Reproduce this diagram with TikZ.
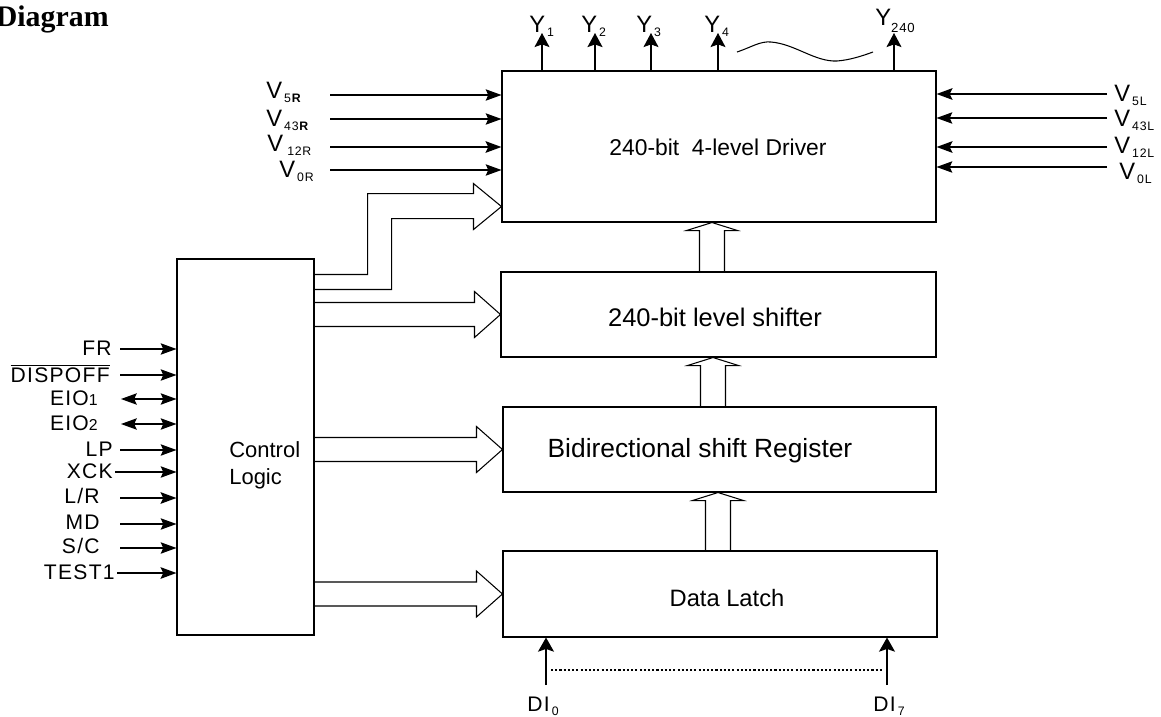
\documentclass[tikz,border=0pt]{standalone}
\usepackage{fontspec}
\setmainfont{Liberation Sans}
\newfontfamily\titlefont{Liberation Serif}
\newfontfamily\pinfont[LetterSpace=6]{Liberation Sans}
\usetikzlibrary{arrows.meta,calc}
\def\pxu{0.02cm}
\def\sig#1#2{#1\raisebox{-2.5pt}{\fontsize{7}{8}\selectfont\,#2}}
\def\busto(#1){\draw[bus] ($(ctrl.east |- #1.west)+(0,-12)$) -- ($(#1.west)+(-26,-12)$) -- ++(0,-11) -- (#1.west) -- ($(#1.west)+(-26,23)$) -- ++(0,-11) -- ($(ctrl.east |- #1.west)+(0,12)$);}
\def\upbus(#1)(#2)(#3){\coordinate (bx) at (#3,0);
	\draw[bus] ($(bx |- #1.north)+(-12.5,0)$) -- ($(bx |- #2.south)+(-12.5,8)$) -- ++(-13,0) -- (bx |- #2.south) -- ($(bx |- #2.south)+(25.5,8)$) -- ++(-13,0) -- ($(bx |- #1.north)+(12.5,0)$);}
\tikzset{
	blk/.style={draw, line width=0.6pt, inner sep=0pt},
	blktxt/.style={inner sep=0pt},
	bus/.style={line width=0.6pt, line join=miter},
	sig/.style={-{Stealth[length=9pt,width=6.5pt,inset=1.5pt]}, line width=0.6pt},
	sigb/.style={sig, line width=1.2pt},
	dsig/.style={{Stealth[length=9pt,width=6.5pt,inset=1.5pt]}-{Stealth[length=9pt,width=6.5pt,inset=1.5pt]}, line width=0.6pt},
	yout/.style={-{Stealth[length=8pt,width=8.5pt,inset=1.5pt]}, line width=0.6pt},
	lbl/.style={inner sep=0pt, font=\pinfont\fontsize{13.5}{15}\selectfont},
	pin/.style={inner sep=0pt, text depth=0pt, font=\pinfont\fontsize{12}{14}\selectfont},
}

\begin{document}
\begin{tikzpicture}[x=\pxu, y=-\pxu]
			%%%%% START %%%%%
			\useasboundingbox (0,0) rectangle (1161,717);
			\node[anchor=base east, inner sep=0pt, font=\titlefont\bfseries\fontsize{17}{17}\selectfont] (title) at (109,26) {Diagram};
			
			% blocks
			\node[blk, minimum width=434*\pxu, minimum height=151*\pxu] (drv) at (719,146.5) {};
			\node[blktxt, font=\fontsize{13}{15}\selectfont] (drvtxt) at (718,147) {240-bit\ \ 4-level Driver};
			\node[blk, minimum width=435*\pxu, minimum height=85*\pxu] (ls) at (718.5,314.5) {};
			\node[blktxt, font=\fontsize{14.5}{16}\selectfont] (lstxt) at (715,317) {240-bit level shifter};
			\node[blk, minimum width=433*\pxu, minimum height=85*\pxu] (sr) at (719.5,449.5) {};
			\node[blktxt, font=\fontsize{15}{17}\selectfont] (srtxt) at (700,451) {Bidirectional shift Register};
			\node[blk, minimum width=434*\pxu, minimum height=86*\pxu] (dl) at (720,594) {};
			\node[blktxt, font=\fontsize{13.5}{16}\selectfont] (dltxt) at (727,598) {Data Latch};
			\node[blk, minimum width=137*\pxu, minimum height=376*\pxu] (ctrl) at (245.5,447) {};
			\node[anchor=west, align=left, inner sep=0pt, font=\fontsize{12.5}{15.5}\selectfont] (ctrltxt) at (229,465) {Control\\Logic};
			
			% outputs
			\coordinate (y1) at (542,33);
			\draw[yout] (y1 |- drv.north) -- (y1);
			\node[lbl, anchor=base west] (y1l) at (529,32) {\sig{Y}{1}};
			\coordinate (y2) at (595,33);
			\draw[yout, line width=1.2pt] (y2 |- drv.north) -- (y2);
			\node[lbl, anchor=base west] (y2l) at (581,32) {\sig{Y}{2}};
			\coordinate (y3) at (651,33);
			\draw[yout] (y3 |- drv.north) -- (y3);
			\node[lbl, anchor=base west] (y3l) at (636,32) {\sig{Y}{3}};
			\coordinate (y4) at (718,33);
			\draw[yout] (y4 |- drv.north) -- (y4);
			\node[lbl, anchor=base west] (y4l) at (704,32) {\sig{Y}{4}};
			\coordinate (y240) at (894,33);
			\draw[yout] (y240 |- drv.north) -- (y240);
			\node[lbl, anchor=base west] (y240l) at (875,25) {Y\raisebox{-4pt}{\fontsize{7.5}{8}\selectfont 240}};
			\draw[line width=0.6pt] (737,52) .. controls (752,47) and (760,41) .. (771,42) .. controls (795,44) and (815,62) .. (837,61) .. controls (850,60) and (862,56) .. (873,52);
			
			% supply inputs, right side
			\coordinate (v5r) at (330,95);
			\draw[sig] (v5r) -- (v5r -| drv.west);
			\node[lbl, anchor=base west] (v5rl) at (266,98) {\sig{V}{5\textbf{R}}};
			\coordinate (v43r) at (330,119);
			\draw[sig] (v43r) -- (v43r -| drv.west);
			\node[lbl, anchor=base west] (v43rl) at (266,126) {\sig{V}{43\textbf{R}}};
			\coordinate (v12r) at (330,147);
			\draw[sigb] (v12r) -- (v12r -| drv.west);
			\node[lbl, anchor=base west] (v12rl) at (267,151) {\sig{V}{\,12R}};
			\coordinate (v0r) at (330,170);
			\draw[sig] (v0r) -- (v0r -| drv.west);
			\node[lbl, anchor=base west] (v0rl) at (279,177) {\sig{V}{0R}};
			
			% supply inputs, left side
			\coordinate (v5l) at (1107,94);
			\draw[sigb] (v5l) -- (v5l -| drv.east);
			\node[lbl, anchor=base west] (v5ll) at (1114,101) {\sig{V}{5L}};
			\coordinate (v43l) at (1107,118);
			\draw[sig] (v43l) -- (v43l -| drv.east);
			\node[lbl, anchor=base west] (v43ll) at (1114,126) {\sig{V}{43L}};
			\coordinate (v12l) at (1107,147);
			\draw[sigb] (v12l) -- (v12l -| drv.east);
			\node[lbl, anchor=base west] (v12ll) at (1114,153) {\sig{V}{12L}};
			\coordinate (v0l) at (1107,167);
			\draw[sig] (v0l) -- (v0l -| drv.east);
			\node[lbl, anchor=base west] (v0ll) at (1119,179) {\sig{V}{0L}};
			
			% data paths
			\coordinate (drvin) at ($(drv.south west)+(0,-16)$);
			\draw[bus] ($(ctrl.north east)+(0,16)$) -- ++(53,0) |- ($(drvin)+(-28,-13)$) -- ++(0,-10) -- (drvin) -- ($(drvin)+(-28,23)$) -- ++(0,-11) -| ($(ctrl.north east)+(77,31)$) -- ($(ctrl.north east)+(0,31)$);
			\busto(ls)
			\busto(sr)
			\busto(dl)
			\upbus(ls)(drv)(712)
			\upbus(sr)(ls)(713)
			\upbus(dl)(sr)(718)
			
			% control inputs
			\coordinate (fr) at (120,349);
			\draw[sig] (fr) -- (fr -| ctrl.west);
			\node[pin, anchor=east] (frl) at (112,348) {FR};
			\coordinate (dispoff) at (120,375);
			\draw[sig] (dispoff) -- (dispoff -| ctrl.west);
			\node[pin, anchor=east] (dispoffl) at (110,373) {$\overline{\mbox{DISPOFF}}$};
			\coordinate (eio1) at (121,399);
			\draw[dsig] (eio1) -- (eio1 -| ctrl.west);
			\node[pin, anchor=east] (eio1l) at (98,398) {EIO{\fontsize{9}{10}\selectfont 1}};
			\coordinate (eio2) at (121,424);
			\draw[dsig] (eio2) -- (eio2 -| ctrl.west);
			\node[pin, anchor=east] (eio2l) at (98,423) {EIO{\fontsize{9}{10}\selectfont 2}};
			\coordinate (lp) at (120,450);
			\draw[sig] (lp) -- (lp -| ctrl.west);
			\node[pin, anchor=east] (lpl) at (113,449) {LP};
			\coordinate (xck) at (115,472);
			\draw[sig] (xck) -- (xck -| ctrl.west);
			\node[pin, anchor=east] (xckl) at (113,471) {XCK};
			\coordinate (lr) at (120,498);
			\draw[sigb] (lr) -- (lr -| ctrl.west);
			\node[pin, anchor=east] (lrl) at (100,496) {L/R};
			\coordinate (md) at (120,524);
			\draw[sig] (md) -- (md -| ctrl.west);
			\node[pin, anchor=east] (mdl) at (100,522) {MD};
			\coordinate (sc) at (120,548);
			\draw[sig] (sc) -- (sc -| ctrl.west);
			\node[pin, anchor=east] (scl) at (100,546) {S/C};
			\coordinate (test1) at (117,573);
			\draw[sigb] (test1) -- (test1 -| ctrl.west);
			\node[pin, anchor=east] (test1l) at (115,572) {TEST1};
			
			% data inputs
			\coordinate (di0) at (546,685);
			\draw[sigb, -{Stealth[length=8pt,width=9pt,inset=1.5pt]}] (di0) -- (di0 |- dl.south);
			\node[pin, anchor=base west] (di0l) at (527,711) {\sig{DI}{0}};
			\coordinate (di7) at (887,685);
			\draw[sigb, -{Stealth[length=8pt,width=9pt,inset=1.5pt]}] (di7) -- (di7 |- dl.south);
			\node[pin, anchor=base west] (di7l) at (873,711) {\sig{DI}{7}};
			\draw[line width=0.8pt, dash pattern=on 1.2pt off 1.2pt] ($(di0)+(5,-15)$) -- ($(di7)+(-5,-15)$);
			
			%%%%% END %%%%%
\end{tikzpicture}
\end{document}
